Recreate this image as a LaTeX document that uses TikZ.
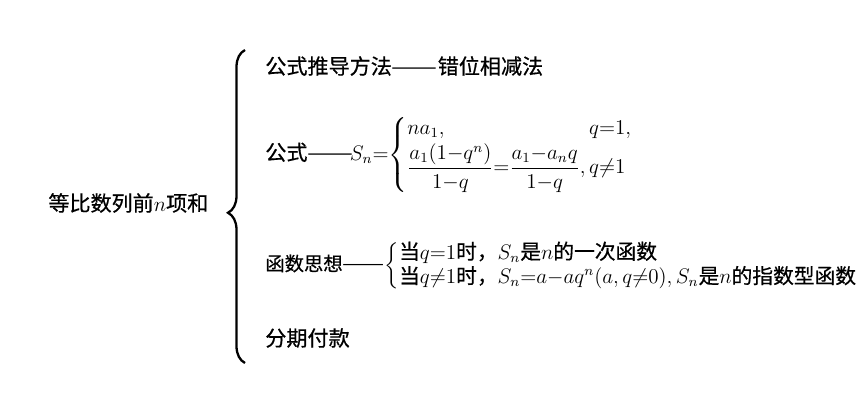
\documentclass[tikz,border=0pt]{standalone}
\usepackage{amsmath}
\usepackage{array}
\usepackage{graphicx}
\usepackage{fontspec}
\newfontfamily\cjk{Noto Sans CJK SC}[FakeBold=0.6]
\newfontfamily\cjkplain{Noto Sans CJK SC}
\usetikzlibrary{decorations.pathreplacing}
\newcommand\longdash{{\cjkplain\scalebox{1.3}[1]{——}}}
\tikzset{
  item/.style={anchor=west,inner sep=0pt,font=\cjk\fontsize{12}{14}\selectfont},
  small item/.style={item,font=\cjk\fontsize{11}{13}\selectfont},
  bigbrace/.style={decorate,decoration={brace,amplitude=#1,aspect=0.48},line width=1.3pt},
}

\begin{document}
\begin{tikzpicture}[x=0.02cm,y=-0.02cm]
  \useasboundingbox (0,0) rectangle (866,416);
  % root and the big brace
  \node[item] (root) at (48,203) {等比数列前$n$项和};
  \coordinate (bot) at (245,363);
  \coordinate (top) at (245,50);
  \draw[bigbrace=0.34cm] (bot) -- (top);
  % branches
  \node[item] (method) at (265,66) {公式推导方法\longdash 错位相减法};
  \node[item] (formula) at (265,155) {公式\longdash$\!S_n{=}\!\left\{\begin{array}{@{}l@{\,}l@{}}
      na_1, & q{=}1,\\[1pt]
      \dfrac{a_1(1{-}q^n)}{1{-}q}{=}\dfrac{a_1{-}a_nq}{1{-}q}, & q{\neq}1
    \end{array}\right.$};
  \node[small item] (idea) at (265,266) {函数思想\longdash$\left\{\begin{tabular}{@{}>{\fontsize{11.8}{14}\selectfont}l@{}}
      当$q{=}1$时，$S_n$是$n$的一次函数\\
      当$q{\neq}1$时，$S_n{=}a{-}aq^n(a,q{\neq}0),S_n$是$n$的指数型函数
    \end{tabular}\right.$};
  \node[item] (loan) at (265,338) {分期付款};
\end{tikzpicture}
\end{document}
